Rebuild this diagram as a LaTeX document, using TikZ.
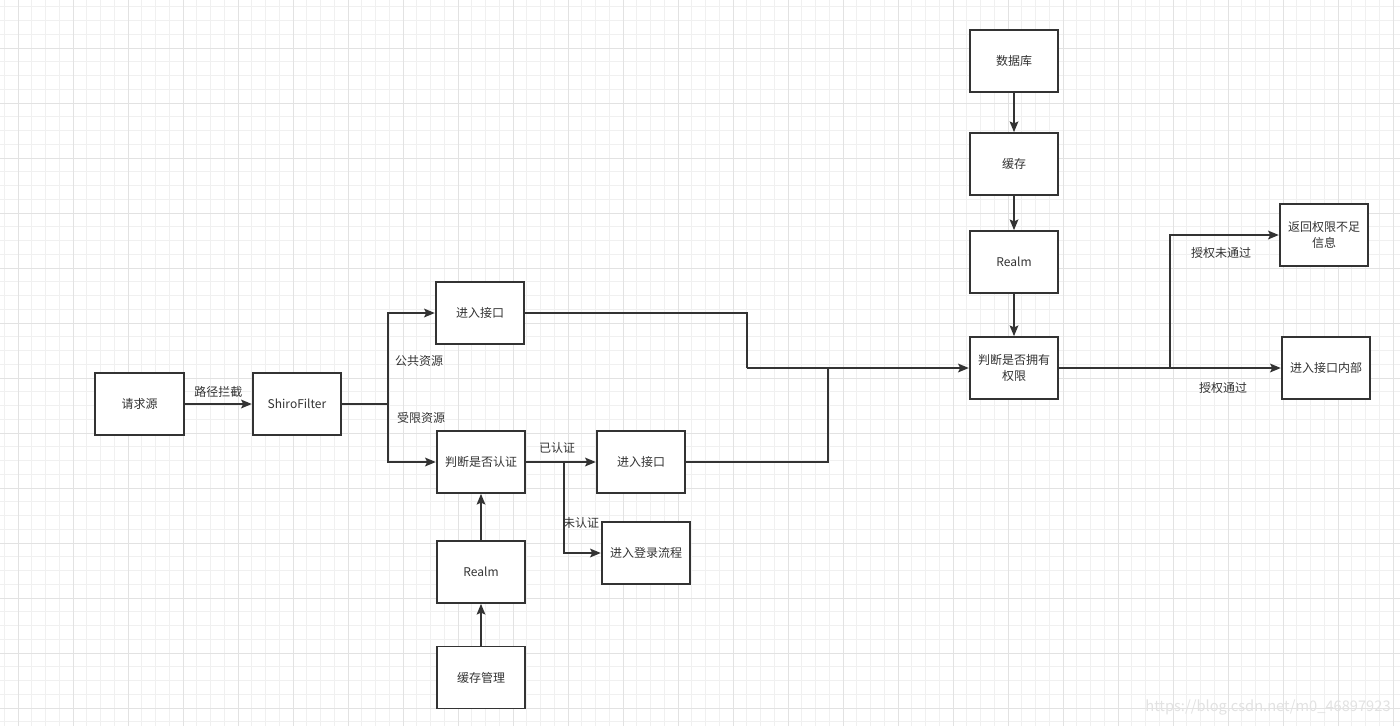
\documentclass[tikz,border=0pt]{standalone}
\usepackage{fontspec}
\setmainfont{Noto Sans CJK SC}
\usepackage{tikz}
\usetikzlibrary{positioning,arrows.meta,calc}
\definecolor{ink}{HTML}{333333}
\definecolor{gridminor}{HTML}{F0F0F0}
\definecolor{gridmajor}{HTML}{E2E2E2}

\begin{document}
\begin{tikzpicture}[x=0.75pt, y=-0.75pt,
    box/.style={rectangle, draw=ink, line width=1.3pt, fill=white, text=ink, minimum width=66.5pt, minimum height=46.5pt, align=center, font=\fontsize{9}{12}\selectfont},
    lbl/.style={text=ink, font=\fontsize{9}{12}\selectfont, inner sep=1pt},
    line/.style={draw=ink, line width=1.3pt},
    arrow/.style={line, -{Stealth[length=8pt, width=6.5pt, inset=1.5pt]}}
]
\useasboundingbox (0,0) rectangle (1400,726);
\fill[white] (0,0) rectangle (1400,726);
% background grid
\foreach \i in {-1,...,101} \draw[gridminor, line width=0.6pt] ({18+13.75*\i},0) -- ({18+13.75*\i},726);
\foreach \j in {-4,...,50} \draw[gridminor, line width=0.6pt] (0,{48+13.75*\j}) -- (1400,{48+13.75*\j});
\foreach \i in {0,...,25} \draw[gridmajor, line width=0.7pt] ({18+55*\i},0) -- ({18+55*\i},726);
\foreach \j in {-1,...,12} \draw[gridmajor, line width=0.7pt] (0,{48+55*\j}) -- (1400,{48+55*\j});

% left part
\node[box] (source) at (139.5,404) {请求源};
\node[box] (filter) at (297,404) {ShiroFilter};
\node[box] (api1) at (480,313) {进入接口};
\node[box] (auth) at (481,462) {判断是否认证};
\node[box] (api2) at (641,462) {进入接口};
\node[box] (login) at (646,553) {进入登录流程};
\node[box] (realm1) at (481,572) {Realm};
\node[box] (cachemgr) at (481,677.5) {缓存管理};

% right part
\node[box] (db) at (1014,61) {数据库};
\node[box] (cache) at (1014,164) {缓存};
\node[box] (realm2) at (1014,262) {Realm};
\node[box] (perm) at (1014,368) {判断是否拥有\\权限};
\node[box] (deny) at (1324,235) {返回权限不足\\信息};
\node[box] (inner) at (1326,368) {进入接口内部};

\coordinate (split) at (388,404);
\coordinate (authsplit) at (564,462);
\coordinate (join1) at (747,368);
\coordinate (join2) at (828,368);
\coordinate (permsplit) at (1170,368);

\draw[arrow] (source) -- node[lbl, above=3pt] {路径拦截} (filter);
\draw[line] (filter) -- (split);
\draw[arrow] (split) |- (api1);
\draw[arrow] (split) |- (auth);
\node[lbl] (public) at (419,361) {公共资源};
\node[lbl] (private) at (421,418) {受限资源};

\draw[arrow] (auth) -- node[lbl, above=5pt, xshift=-3pt] {已认证} (api2);
\draw[arrow] (authsplit) |- (login);
\node[lbl] (noauth) at (581,523) {未认证};
\draw[arrow] (realm1) -- (auth);
\draw[arrow] (cachemgr) -- (realm1);

\draw[line] (api1) -| (join1);
\draw[line] (api2) -| (join2);
\draw[arrow] (join1) -- (perm);

\draw[arrow] (db) -- (cache);
\draw[arrow] (cache) -- (realm2);
\draw[arrow] (realm2) -- (perm);

\draw[line] (perm) -- (permsplit);
\draw[arrow] (permsplit) |- (deny);
\draw[arrow] (permsplit) -- (inner);
\node[lbl] (fail) at (1221,253) {授权未通过};
\node[lbl] (pass) at (1223,388) {授权通过};

\node[text=gridmajor, font=\fontsize{11}{13}\selectfont] (mark) at (1268,707) {https://blog.csdn.net/m0\_46897923};
\end{tikzpicture}
\end{document}
